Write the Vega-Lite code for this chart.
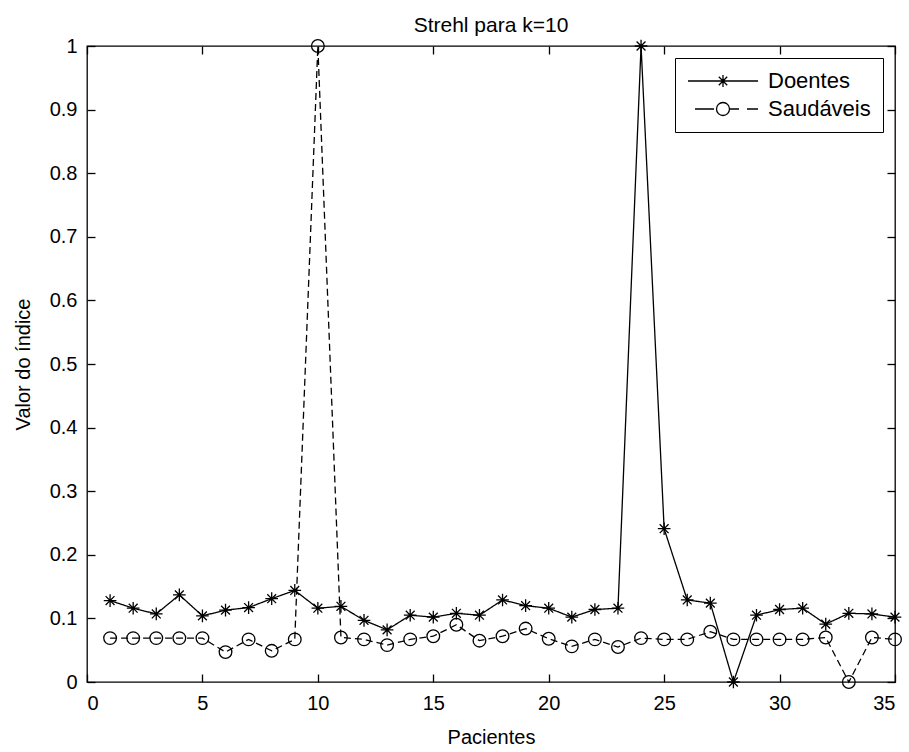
{
  "$schema": "https://vega.github.io/schema/vega-lite/v6.json",
  "autosize": {"type": "none"},
  "padding": {"left": 87, "top": 46, "right": 14, "bottom": 70},
  "width": 808,
  "height": 636,
  "background": "white",
  "title": {"text": "Strehl para k=10", "fontSize": 21, "fontWeight": "normal", "font": "Liberation Sans", "color": "black", "baseline": "alphabetic", "frame": "group", "offset": 6, "dy": 23},
  "config": {
    "view": {"stroke": "black", "strokeWidth": 1.3},
    "font": "Liberation Sans",
    "axis": {"domain": false, "grid": false, "tickColor": "black", "tickSize": -8, "tickWidth": 1.3, "labelColor": "black", "labelFontSize": 20, "labelFont": "Liberation Sans", "titleColor": "black", "titleFontSize": 20, "titleFont": "Liberation Sans", "titleFontWeight": "normal"},
    "legend": {"labelFontSize": 22, "labelFont": "Liberation Sans", "labelColor": "black"}
  },
  "data": {"values": [
    {"p": 1, "serie": "Doentes", "v": 0.128},
    {"p": 2, "serie": "Doentes", "v": 0.116},
    {"p": 3, "serie": "Doentes", "v": 0.107},
    {"p": 4, "serie": "Doentes", "v": 0.137},
    {"p": 5, "serie": "Doentes", "v": 0.104},
    {"p": 6, "serie": "Doentes", "v": 0.113},
    {"p": 7, "serie": "Doentes", "v": 0.117},
    {"p": 8, "serie": "Doentes", "v": 0.131},
    {"p": 9, "serie": "Doentes", "v": 0.144},
    {"p": 10, "serie": "Doentes", "v": 0.116},
    {"p": 11, "serie": "Doentes", "v": 0.119},
    {"p": 12, "serie": "Doentes", "v": 0.097},
    {"p": 13, "serie": "Doentes", "v": 0.082},
    {"p": 14, "serie": "Doentes", "v": 0.105},
    {"p": 15, "serie": "Doentes", "v": 0.102},
    {"p": 16, "serie": "Doentes", "v": 0.108},
    {"p": 17, "serie": "Doentes", "v": 0.105},
    {"p": 18, "serie": "Doentes", "v": 0.129},
    {"p": 19, "serie": "Doentes", "v": 0.120},
    {"p": 20, "serie": "Doentes", "v": 0.116},
    {"p": 21, "serie": "Doentes", "v": 0.102},
    {"p": 22, "serie": "Doentes", "v": 0.114},
    {"p": 23, "serie": "Doentes", "v": 0.116},
    {"p": 24, "serie": "Doentes", "v": 1.0},
    {"p": 25, "serie": "Doentes", "v": 0.241},
    {"p": 26, "serie": "Doentes", "v": 0.129},
    {"p": 27, "serie": "Doentes", "v": 0.124},
    {"p": 28, "serie": "Doentes", "v": 0.0},
    {"p": 29, "serie": "Doentes", "v": 0.105},
    {"p": 30, "serie": "Doentes", "v": 0.114},
    {"p": 31, "serie": "Doentes", "v": 0.116},
    {"p": 32, "serie": "Doentes", "v": 0.091},
    {"p": 33, "serie": "Doentes", "v": 0.108},
    {"p": 34, "serie": "Doentes", "v": 0.107},
    {"p": 35, "serie": "Doentes", "v": 0.102},
    {"p": 1, "serie": "Saudáveis", "v": 0.069},
    {"p": 2, "serie": "Saudáveis", "v": 0.069},
    {"p": 3, "serie": "Saudáveis", "v": 0.069},
    {"p": 4, "serie": "Saudáveis", "v": 0.069},
    {"p": 5, "serie": "Saudáveis", "v": 0.069},
    {"p": 6, "serie": "Saudáveis", "v": 0.047},
    {"p": 7, "serie": "Saudáveis", "v": 0.067},
    {"p": 8, "serie": "Saudáveis", "v": 0.049},
    {"p": 9, "serie": "Saudáveis", "v": 0.067},
    {"p": 10, "serie": "Saudáveis", "v": 1.0},
    {"p": 11, "serie": "Saudáveis", "v": 0.070},
    {"p": 12, "serie": "Saudáveis", "v": 0.067},
    {"p": 13, "serie": "Saudáveis", "v": 0.058},
    {"p": 14, "serie": "Saudáveis", "v": 0.067},
    {"p": 15, "serie": "Saudáveis", "v": 0.072},
    {"p": 16, "serie": "Saudáveis", "v": 0.090},
    {"p": 17, "serie": "Saudáveis", "v": 0.065},
    {"p": 18, "serie": "Saudáveis", "v": 0.072},
    {"p": 19, "serie": "Saudáveis", "v": 0.084},
    {"p": 20, "serie": "Saudáveis", "v": 0.068},
    {"p": 21, "serie": "Saudáveis", "v": 0.056},
    {"p": 22, "serie": "Saudáveis", "v": 0.067},
    {"p": 23, "serie": "Saudáveis", "v": 0.055},
    {"p": 24, "serie": "Saudáveis", "v": 0.069},
    {"p": 25, "serie": "Saudáveis", "v": 0.067},
    {"p": 26, "serie": "Saudáveis", "v": 0.067},
    {"p": 27, "serie": "Saudáveis", "v": 0.079},
    {"p": 28, "serie": "Saudáveis", "v": 0.067},
    {"p": 29, "serie": "Saudáveis", "v": 0.067},
    {"p": 30, "serie": "Saudáveis", "v": 0.067},
    {"p": 31, "serie": "Saudáveis", "v": 0.067},
    {"p": 32, "serie": "Saudáveis", "v": 0.070},
    {"p": 33, "serie": "Saudáveis", "v": 0.0},
    {"p": 34, "serie": "Saudáveis", "v": 0.070},
    {"p": 35, "serie": "Saudáveis", "v": 0.067}
  ]},
  "layer": [
    {
      "mark": {"type": "line", "color": "black", "strokeWidth": 1.3},
      "encoding": {
        "x": {"field": "p", "type": "quantitative", "scale": {"domain": [0, 35], "nice": false, "zero": false},
              "axis": {"orient": "bottom", "values": [0, 5, 10, 15, 20, 25, 30, 35], "title": "Pacientes", "labelPadding": 19, "titlePadding": 14}},
        "y": {"field": "v", "type": "quantitative", "scale": {"domain": [0, 1], "nice": false},
              "axis": {"orient": "left", "values": [0, 0.1, 0.2, 0.3, 0.4, 0.5, 0.6, 0.7, 0.8, 0.9, 1], "format": "~g", "title": "Valor do índice", "labelPadding": 18, "titlePadding": 16}},
        "detail": {"field": "serie"},
        "strokeDash": {"field": "serie", "type": "nominal", "scale": {"domain": ["Doentes", "Saudáveis"], "range": [[1, 0], [7, 4]]}, "legend": null}
      }
    },
    {
      "mark": {"type": "point", "filled": false, "color": "black", "strokeWidth": 1.3, "size": 160, "opacity": 1},
      "encoding": {
        "x": {"field": "p", "type": "quantitative", "axis": {"orient": "top", "values": [0, 5, 10, 15, 20, 25, 30, 35], "labels": false, "title": null}},
        "y": {"field": "v", "type": "quantitative", "axis": {"orient": "right", "values": [0, 0.1, 0.2, 0.3, 0.4, 0.5, 0.6, 0.7, 0.8, 0.9, 1], "labels": false, "title": null}},
        "shape": {"field": "serie", "type": "nominal", "scale": {"domain": ["Doentes", "Saudáveis"], "range": ["M-1,0L1,0M0,-1L0,1M-0.7,-0.7L0.7,0.7M-0.7,0.7L0.7,-0.7", "circle"]}, "legend": null}
      }
    },
    {
      "transform": [{"filter": {"field": "serie", "equal": "nenhum"}}],
      "mark": {"type": "point", "filled": false, "color": "black", "strokeWidth": 1.3, "size": 400},
      "encoding": {
        "x": {"field": "p", "type": "quantitative", "axis": null},
        "y": {"field": "v", "type": "quantitative", "axis": null},
        "shape": {"field": "serie", "type": "nominal",
          "scale": {"domain": ["Doentes", "Saudáveis"], "range": [
            "M-1,0L6,0M2.5,-0.6L2.5,0.6M1.9,0L3.1,0M2.08,-0.42L2.92,0.42M2.08,0.42L2.92,-0.42",
            "M-0.3,0L1.6,0M3.2,0L4.1,0M4.9,0L6,0M3.15,0A0.65,0.65,0,1,1,1.85,0A0.65,0.65,0,1,1,3.15,0Z"]},
          "legend": {"title": null, "orient": "top-right", "offset": 12, "strokeColor": "black", "fillColor": "white", "padding": 12, "rowPadding": 6, "labelOffset": 59, "symbolSize": 400, "symbolStrokeWidth": 1.3, "symbolStrokeColor": "black", "symbolFillColor": "transparent", "symbolOpacity": 1}}
      }
    }
  ],
  "resolve": {"scale": {"shape": "independent"}, "axis": {"x": "independent", "y": "independent"}, "legend": {"shape": "independent"}}
}
